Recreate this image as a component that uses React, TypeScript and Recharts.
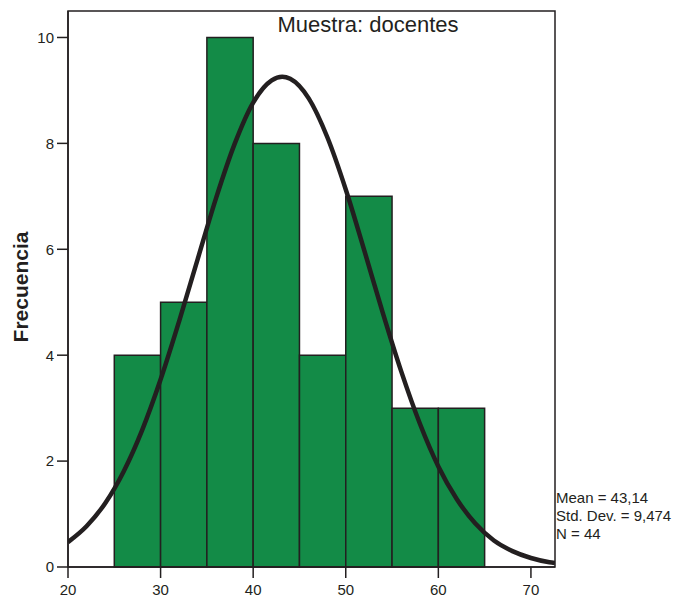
import React from "react";
import { ComposedChart, Line, XAxis, YAxis, ReferenceArea } from "recharts";

const binStarts = [25, 30, 35, 40, 45, 50, 55, 60];
const binEnds = [30, 35, 40, 45, 50, 55, 60, 65];
const counts = [4, 5, 10, 8, 4, 7, 3, 3];

const curveX = [20, 22, 24, 26, 28, 30, 32, 34, 36, 38, 40, 42, 43.14, 44, 46, 48, 50, 52, 54, 56, 58, 60, 62, 64, 66, 68, 70, 72, 72.6];
const curveY = [0.47, 0.77, 1.2, 1.8, 2.58, 3.54, 4.64, 5.81, 6.97, 7.99, 8.77, 9.19, 9.26, 9.22, 8.85, 8.12, 7.13, 5.98, 4.8, 3.69, 2.71, 1.9, 1.28, 0.82, 0.5, 0.3, 0.17, 0.09, 0.075];

const xTicks = [20, 30, 40, 50, 60, 70];
const yTicks = [0, 2, 4, 6, 8, 10];

const stats = ["Mean = 43,14", "Std. Dev. = 9,474", "N = 44"];
const title = "Muestra: docentes";
const yLabel = "Frecuencia";

const curve = curveX.map((x, i) => ({ x, y: curveY[i] }));

const INK = "#231f20";
const GREEN = "#138b47";
const FONT = "'Liberation Sans', Arial, sans-serif";

export default function App() {
  return (
    <div style={{ position: "relative", width: 666, height: 590, fontFamily: FONT }}>
      <ComposedChart
        width={666}
        height={590}
        data={curve}
        margin={{ top: 3, right: 119, left: 0, bottom: 0 }}
      >
        <XAxis
          dataKey="x"
          type="number"
          domain={[20, 72.6]}
          ticks={xTicks}
          allowDataOverflow
          height={31}
          tickSize={11}
          tickMargin={6}
          stroke={INK}
          strokeWidth={1.5}
          tick={{ fill: INK, fontSize: 15, fontFamily: FONT }}
        />
        <YAxis
          type="number"
          domain={[0, 10.5]}
          ticks={yTicks}
          allowDataOverflow
          width={60}
          tickSize={11}
          tickMargin={3}
          stroke={INK}
          strokeWidth={1.5}
          tick={{ fill: INK, fontSize: 15, fontFamily: FONT }}
        />
        {binStarts.map((s, i) => (
          <ReferenceArea
            key={i}
            x1={s}
            x2={binEnds[i]}
            y1={0}
            y2={counts[i]}
            fill={GREEN}
            fillOpacity={1}
            stroke={INK}
            strokeWidth={1.5}
          />
        ))}
        <Line
          dataKey="y"
          type="monotone"
          dot={false}
          stroke={INK}
          strokeWidth={4.5}
          isAnimationActive={false}
        />
        <ReferenceArea
          x1={20}
          x2={72.6}
          y1={0}
          y2={10.5}
          fill="none"
          fillOpacity={0}
          stroke={INK}
          strokeWidth={1.5}
        />
      </ComposedChart>
      <div
        style={{
          position: "absolute",
          left: 548,
          top: 481,
          fontSize: 15,
          lineHeight: "18px",
          color: INK,
          whiteSpace: "nowrap",
        }}
      >
        {stats.map((s, i) => (
          <div key={i}>{s}</div>
        ))}
      </div>
      <div
        style={{
          position: "absolute",
          left: 360,
          top: 4,
          transform: "translateX(-50%)",
          fontSize: 22,
          color: INK,
          whiteSpace: "nowrap",
          lineHeight: "26px",
        }}
      >
        {title}
      </div>
      <div
        style={{
          position: "absolute",
          left: 13,
          top: 279,
          transform: "translate(-50%, -50%) rotate(-90deg)",
          fontSize: 21,
          fontWeight: "bold",
          color: INK,
          whiteSpace: "nowrap",
        }}
      >
        {yLabel}
      </div>
    </div>
  );
}
